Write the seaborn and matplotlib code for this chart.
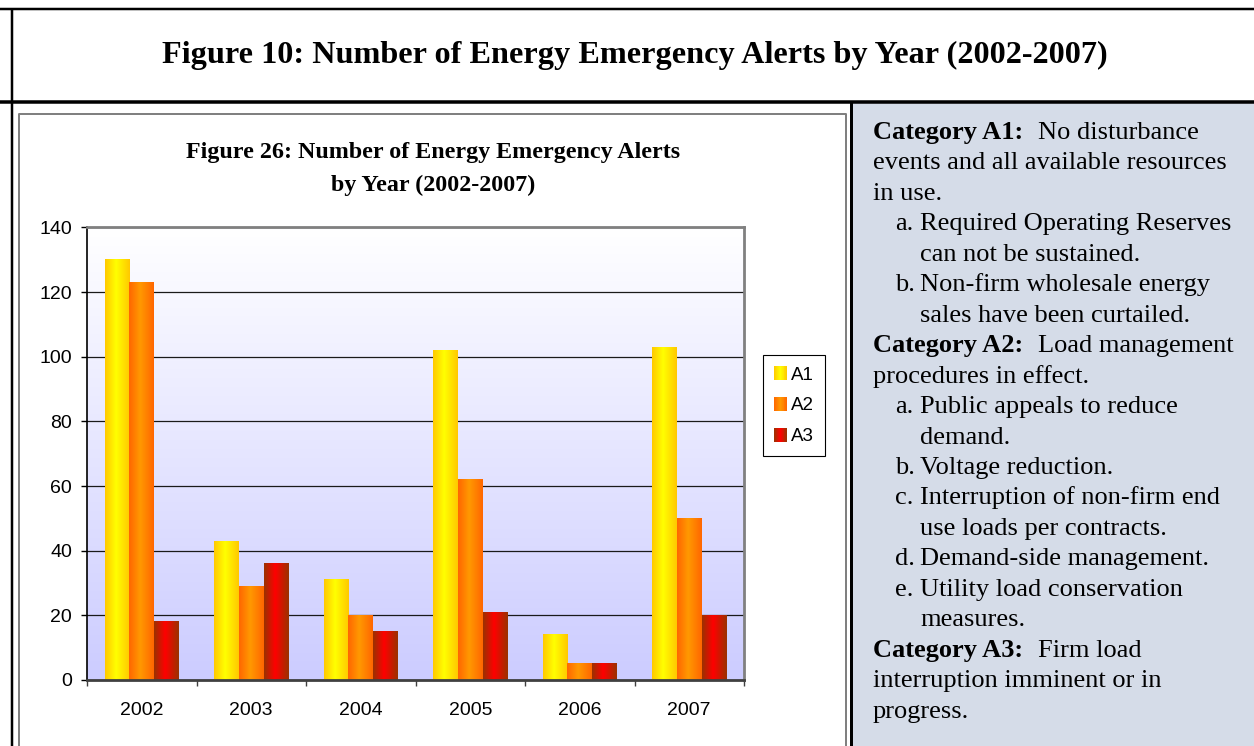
import numpy as np
import pandas as pd
import matplotlib
matplotlib.use("Agg")
import matplotlib.pyplot as plt
import seaborn as sns
from matplotlib.colors import LinearSegmentedColormap
from matplotlib.patches import Rectangle
from matplotlib.legend_handler import HandlerBase
from matplotlib.ticker import FixedLocator

# ---------------- data ----------------
years = ["2002", "2003", "2004", "2005", "2006", "2007"]
series = ["A1", "A2", "A3"]
a1_counts = [130, 43, 31, 102, 14, 103]
a2_counts = [123, 29, 20, 62, 5, 50]
a3_counts = [18, 36, 15, 21, 5, 20]
y_ticks = [0, 20, 40, 60, 80, 100, 120, 140]

df = pd.DataFrame({
    "Year": years * 3,
    "Category": [s for s in series for _ in years],
    "Count": a1_counts + a2_counts + a3_counts,
})

main_title = "Figure 10: Number of Energy Emergency Alerts by Year (2002-2007)"
chart_title_1 = "Figure 26: Number of Energy Emergency Alerts"
chart_title_2 = "by Year (2002-2007)"

panel_lines = [
    ("bold", "Category A1:", "No disturbance"),
    ("plain", "events and all available resources"),
    ("plain", "in use."),
    ("item", "a.", "Required Operating Reserves"),
    ("cont", "can not be sustained."),
    ("item", "b.", "Non-firm wholesale energy"),
    ("cont", "sales have been curtailed."),
    ("bold", "Category A2:", "Load management"),
    ("plain", "procedures in effect."),
    ("item", "a.", "Public appeals to reduce"),
    ("cont", "demand."),
    ("item", "b.", "Voltage reduction."),
    ("item", "c.", "Interruption of non-firm end"),
    ("cont", "use loads per contracts."),
    ("item", "d.", "Demand-side management."),
    ("item", "e.", "Utility load conservation"),
    ("cont", "measures."),
    ("bold", "Category A3:", "Firm load"),
    ("plain", "interruption imminent or in"),
    ("plain", "progress."),
]

# ---------------- style ----------------
sns.set_style("white")
plt.rcParams["font.family"] = ["Liberation Sans", "DejaVu Sans"]
plt.rcParams["text.color"] = "black"
plt.rcParams["axes.labelcolor"] = "black"
plt.rcParams["xtick.color"] = "black"
plt.rcParams["ytick.color"] = "black"
SERIF = ["Liberation Serif", "DejaVu Serif"]

W, H = 1254, 746
fig = plt.figure(figsize=(W / 100, H / 100), dpi=100)
fig.patch.set_facecolor("white")


def px(v):
    return v * 0.72


# overlay axes in pixel coordinates for page frame and text
ov = fig.add_axes([0, 0, 1, 1])
ov.set_xlim(0, W)
ov.set_ylim(H, 0)
ov.axis("off")

ov.add_patch(Rectangle((852, 103), W - 852, H - 103, facecolor="#D5DCE8", edgecolor="none"))
ov.plot([0, W], [8.5, 8.5], color="black", lw=px(2.5), solid_capstyle="butt")
ov.plot([0, W], [102, 102], color="black", lw=px(3.5), solid_capstyle="butt")
ov.plot([11.5, 11.5], [8, H], color="black", lw=px(2.5), solid_capstyle="butt")
ov.plot([850.5, 850.5], [102, H], color="black", lw=px(3), solid_capstyle="butt")
ov.plot([19, 19, 846, 846], [H + 5, 114, 114, H + 5], color="#808080", lw=px(2))

ov.text(635, 63, main_title, ha="center", va="baseline", fontsize=23.2,
        weight="bold", family=SERIF, color="black")
ov.text(433, 158, chart_title_1, ha="center", va="baseline", fontsize=17.3,
        weight="bold", family=SERIF, color="black")
ov.text(433, 191, chart_title_2, ha="center", va="baseline", fontsize=17.3,
        weight="bold", family=SERIF, color="black")

FS = 19
for i, entry in enumerate(panel_lines):
    yb = 139 + i * 30.45
    kind = entry[0]
    if kind == "bold":
        t = ov.text(873, yb, entry[1], ha="left", va="baseline", fontsize=FS,
                    weight="bold", family=SERIF, color="black")
        ov.annotate(entry[2], xy=(1, 0), xycoords=t, xytext=(10.5, 0),
                    textcoords="offset points", ha="left", va="bottom",
                    fontsize=FS, family=SERIF, color="black")
    elif kind == "plain":
        ov.text(873, yb, entry[1], ha="left", va="baseline", fontsize=FS,
                family=SERIF, color="black")
    elif kind == "item":
        ov.text(895, yb, entry[1], ha="left", va="baseline", fontsize=FS,
                family=SERIF, color="black")
        ov.text(920, yb, entry[2], ha="left", va="baseline", fontsize=FS,
                family=SERIF, color="black")
    else:
        ov.text(920, yb, entry[1], ha="left", va="baseline", fontsize=FS,
                family=SERIF, color="black")

# ---------------- chart ----------------
ax = fig.add_axes([87 / W, 1 - 680 / H, 657 / W, 452.5 / H])

cm_a1 = LinearSegmentedColormap.from_list("a1", [(0, "#FFC800"), (0.45, "#FFFF00"), (1, "#FFC800")])
cm_a2 = LinearSegmentedColormap.from_list("a2", [(0, "#FF6600"), (0.45, "#FF9900"), (1, "#FF6600")])
cm_a3 = LinearSegmentedColormap.from_list("a3", [(0, "#993300"), (0.45, "#FF0000"), (1, "#993300")])
cmaps = [cm_a1, cm_a2, cm_a3]

sns.barplot(data=df, x="Year", y="Count", hue="Category", hue_order=series,
            order=years, palette=["#FFFF00", "#FF9900", "#FF0000"],
            width=0.676, saturation=1, errorbar=None, legend=False, ax=ax)

grad = np.linspace(0, 1, 256).reshape(1, -1)
for cont, cm in zip(ax.containers, cmaps):
    for bar in cont:
        x0 = bar.get_x()
        w = bar.get_width()
        h = bar.get_height()
        bar.set_facecolor("none")
        bar.set_edgecolor("none")
        ax.imshow(grad, cmap=cm, extent=[x0, x0 + w, 0, h], aspect="auto",
                  zorder=2, interpolation="bilinear", origin="lower")

bg_cmap = LinearSegmentedColormap.from_list("bg", ["#CCCCFF", "#FFFFFF"])
ax.imshow(np.linspace(0, 1, 256).reshape(-1, 1), cmap=bg_cmap,
          extent=[-0.5, len(years) - 0.5, 0, 140], aspect="auto", zorder=0.2,
          origin="lower", interpolation="bilinear")

ax.set_xlim(-0.5, len(years) - 0.5)
ax.set_ylim(0, 140)
ax.set_yticks(y_ticks)
ax.set_xlabel("")
ax.set_ylabel("")
ax.set_axisbelow(True)
ax.yaxis.grid(True, color="#1a1a1a", lw=0.9)
ax.xaxis.grid(False)

for side in ["top", "right"]:
    ax.spines[side].set_visible(True)
    ax.spines[side].set_color("#808080")
    ax.spines[side].set_linewidth(2)
ax.spines["left"].set_color("black")
ax.spines["left"].set_linewidth(1.2)
ax.spines["bottom"].set_color("#404040")
ax.spines["bottom"].set_linewidth(2)
for s in ax.spines.values():
    s.set_zorder(3)

ax.xaxis.set_minor_locator(FixedLocator(np.arange(-0.5, len(years), 1.0)))
ax.tick_params(axis="x", which="major", length=0, pad=16, labelsize=14,
               labelcolor="black")
ax.tick_params(axis="x", which="minor", length=4.5, width=1, color="#404040",
               direction="out", bottom=True)
ax.tick_params(axis="y", which="major", length=4.3, width=1, color="black", pad=6.5,
               labelsize=14, labelcolor="black", direction="out", left=True)


class GradHandler(HandlerBase):
    def __init__(self, cmap):
        super().__init__()
        self.cmap = cmap

    def create_artists(self, legend, orig_handle, xdescent, ydescent, width,
                       height, fontsize, trans):
        n = 14
        arts = []
        for k in range(n):
            r = Rectangle((-xdescent + width * k / n, -ydescent), width / n * 1.08,
                          height, facecolor=self.cmap((k + 0.5) / n),
                          edgecolor="none", transform=trans)
            arts.append(r)
        return arts


handles = [Rectangle((0, 0), 1, 1) for _ in series]
leg = ax.legend(handles, series,
                handler_map={h: GradHandler(c) for h, c in zip(handles, cmaps)},
                loc="upper left", bbox_to_anchor=(1.029, 0.719), borderaxespad=0,
                frameon=True, fancybox=False, edgecolor="black", framealpha=1,
                fontsize=13.5, handlelength=0.69, handleheight=0.8,
                handletextpad=0.21, labelspacing=0.7, borderpad=0.6)
leg.get_frame().set_linewidth(0.8)
for txt in leg.get_texts():
    txt.set_color("black")

fig.savefig("out.png", dpi=100)
